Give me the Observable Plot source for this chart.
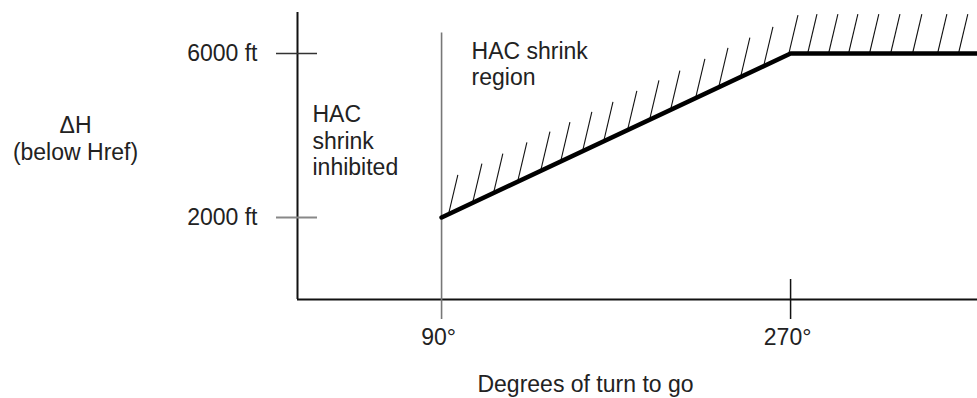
<!DOCTYPE html>
<html>
<head>
<meta charset="utf-8">
<script src="https://cdn.jsdelivr.net/npm/d3@7"></script>
<script src="https://cdn.jsdelivr.net/npm/@observablehq/plot@0.6"></script>
<style>
  html, body { margin: 0; padding: 0; background: #fff; }
  #chart { width: 977px; height: 398px; }
</style>
</head>
<body>
<div id="chart"></div>
<script>
// ---- data ----
const turnDeg  = [90, 270, 366.4];      // degrees of turn to go (line vertices)
const heightFt = [2000, 6000, 6000];    // ΔH below Href (ft)
const xTicks = [90, 270];
const xTickLabels = ["90°", "270°"];
const yTicks = [2000, 6000];
const yTickLabels = ["2000 ft", "6000 ft"];
const hatchDeg = [93.6, 106.0, 116.8, 129.2, 141.1, 151.4, 162.7, 173.6, 185.9, 197.3,
                  208.1, 221.0, 232.9, 244.2, 256.1, 269.0, 278.8, 289.6, 299.9, 310.7,
                  321.6, 332.9, 345.8, 356.6];
const xTitle = "Degrees of turn to go";
const yTitle = ["ΔH", "(below Href)"];
const inhibitedLabel = ["HAC", "shrink", "inhibited"];
const regionLabel = ["HAC shrink", "region"];
const regionTopFt = 6500;

// ---- tables built from the arrays ----
const xDomain = [15.7, turnDeg[turnDeg.length - 1]];
const yDomain = [0, 7000];
const lineData = turnDeg.map((x, i) => ({x, y: heightFt[i]}));
const lineAt = x => {
  for (let i = 0; i < turnDeg.length - 1; i++) {
    if (x <= turnDeg[i + 1]) {
      const t = (x - turnDeg[i]) / (turnDeg[i + 1] - turnDeg[i]);
      return heightFt[i] + t * (heightFt[i + 1] - heightFt[i]);
    }
  }
  return heightFt[heightFt.length - 1];
};
const hatchData = hatchDeg.map(x => ({x, y: lineAt(x)}));
const hatchDx = 4.8;   // degrees
const hatchDy = 960;   // ft

const font = "'Liberation Sans', Arial, Helvetica, sans-serif";
const fs = 23;

const chart = Plot.plot({
  width: 977,
  height: 398,
  marginLeft: 297,
  marginRight: 0,
  marginTop: 12,
  marginBottom: 99,
  x: {domain: xDomain, label: null},
  y: {domain: yDomain, label: null},
  style: {fontFamily: font, fontSize: fs + "px", color: "#222", background: "#fff"},
  marks: [
    // axis lines
    Plot.ruleX([xDomain[0]], {y1: yDomain[1], y2: yDomain[0], stroke: "#111", strokeWidth: 2}),
    Plot.ruleY([0], {x1: xDomain[0], x2: xDomain[1], stroke: "#111", strokeWidth: 2}),
    // y ticks crossing the axis
    Plot.ruleY([yTicks[1]], {x1: xDomain[0], x2: xDomain[0], insetLeft: -21, insetRight: -20, stroke: "#333", strokeWidth: 1.6}),
    Plot.ruleY([yTicks[0]], {x1: xDomain[0], x2: xDomain[0], insetLeft: -21, insetRight: -20, stroke: "#888", strokeWidth: 1.8}),
    // 90° boundary line
    Plot.ruleX([xTicks[0]], {y1: regionTopFt, y2: 0, insetBottom: -20, stroke: "#777", strokeWidth: 1.6}),
    // 270° tick crossing the axis
    Plot.ruleX([xTicks[1]], {y1: 0, y2: 0, insetTop: -20, insetBottom: -20, stroke: "#111", strokeWidth: 1.5}),
    // hatches
    Plot.link(hatchData, {x1: "x", y1: "y", x2: d => d.x + hatchDx, y2: d => d.y + hatchDy, stroke: "#111", strokeWidth: 1.1}),
    // thick boundary
    Plot.line(lineData, {x: "x", y: "y", stroke: "#000", strokeWidth: 4.5, strokeLinejoin: "miter"}),
    // tick labels
    Plot.axisY(yTicks, {tickSize: 0, tickPadding: 40, fontSize: fs, tickFormat: d => yTickLabels[yTicks.indexOf(d)], label: null}),
    Plot.axisX(xTicks, {tickSize: 0, tickPadding: 29, fontSize: fs, dx: -3, tickFormat: d => xTickLabels[xTicks.indexOf(d)], label: null}),
    // titles and annotations
    Plot.text([xTitle], {frameAnchor: "bottom", lineAnchor: "bottom", dx: -52, dy: 92, fontSize: fs, fill: "#222"}),
    Plot.text([yTitle.join("\n")], {frameAnchor: "left", textAnchor: "middle", lineAnchor: "middle", dx: -222, dy: -18, lineHeight: 1.15, fontSize: fs, fill: "#222"}),
    Plot.text([inhibitedLabel.join("\n")], {frameAnchor: "top-left", textAnchor: "start", lineAnchor: "top", dx: 15, dy: 91, lineHeight: 1.15, fontSize: fs, fill: "#222"}),
    Plot.text([regionLabel.join("\n")], {x: xTicks[0], frameAnchor: "top", textAnchor: "start", lineAnchor: "top", dx: 30, dy: 29, lineHeight: 1.1, fontSize: fs, fill: "#222"})
  ]
});
document.getElementById("chart").appendChild(chart);
</script>
</body>
</html>
